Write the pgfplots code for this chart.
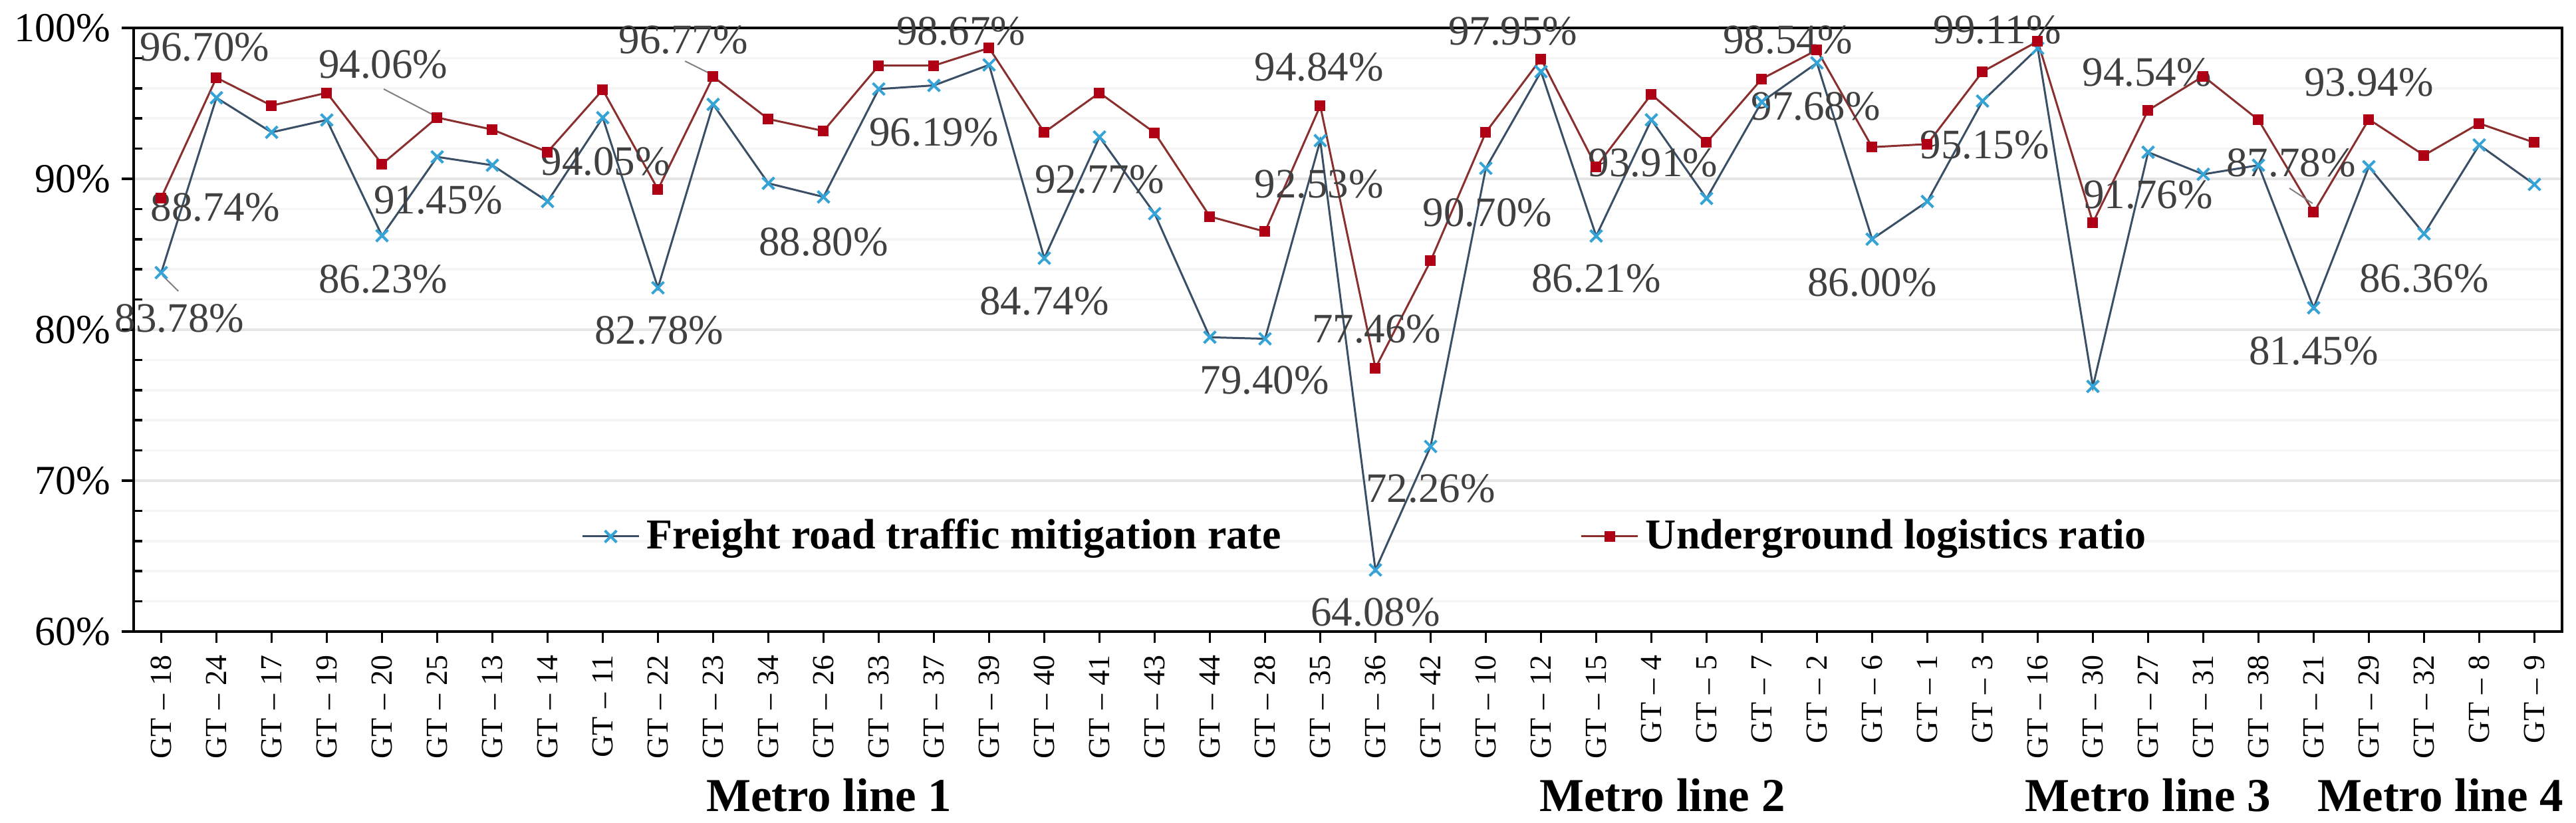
\documentclass[border=0pt]{standalone}
\usepackage{fontspec}
\setmainfont{Liberation Serif}
\usepackage{pgfplots}
\usepackage{pgfplotstable}
\pgfplotsset{compat=1.18}
\definecolor{bline}{HTML}{3A4F66}
\definecolor{bmark}{HTML}{35A3D6}
\definecolor{rline}{HTML}{8A2E2E}
\definecolor{rmark}{HTML}{B00015}
\definecolor{lbl}{HTML}{404040}
\newcommand{\gt}[1]{GT\hspace{0.28em}--\hspace{0.28em}#1}

\pgfplotstableread{
idx blue red
0 83.78 88.74
1 95.37 96.70
2 93.08 94.85
3 93.90 95.70
4 86.23 90.97
5 91.45 94.06
6 90.90 93.26
7 88.50 91.78
8 94.05 95.90
9 82.78 89.30
10 94.93 96.77
11 89.70 93.96
12 88.80 93.17
13 95.95 97.50
14 96.19 97.50
15 97.55 98.67
16 84.74 93.08
17 92.77 95.70
18 87.69 93.05
19 79.50 87.50
20 79.40 86.50
21 92.53 94.84
22 64.08 77.46
23 72.26 84.56
24 90.70 93.08
25 97.10 97.95
26 86.21 90.80
27 93.91 95.60
28 88.70 92.40
29 95.10 96.62
30 97.68 98.54
31 86.00 92.10
32 88.50 92.30
33 95.15 97.10
34 98.65 99.11
35 76.24 87.10
36 91.76 94.54
37 90.30 96.80
38 90.90 93.90
39 81.45 87.78
40 90.80 93.94
41 86.36 91.56
42 92.24 93.67
43 89.63 92.40
}\datatable

\begin{document}
\begin{tikzpicture}[
  lab/.style={font=\fontsize{12.6}{13}\selectfont, text=lbl, inner sep=0pt, anchor=center},
  metro/.style={font=\fontsize{14.2}{16}\selectfont\bfseries, anchor=base},
]
\useasboundingbox (0,0) rectangle (774.8pt,247.6pt);
\begin{axis}[
  at={(40.2pt,57.6pt)}, anchor=south west,
  width=730.4pt, height=181.6pt, scale only axis,
  xmin=-0.5, xmax=43.5, ymin=60, ymax=100,
  clip=false,
  xtick={0,...,43},
  xticklabels={\gt{18},\gt{24},\gt{17},\gt{19},\gt{20},\gt{25},\gt{13},\gt{14},\gt{11},\gt{22},\gt{23},\gt{34},\gt{26},\gt{33},\gt{37},\gt{39},\gt{40},\gt{41},\gt{43},\gt{44},\gt{28},\gt{35},\gt{36},\gt{42},\gt{10},\gt{12},\gt{15},\gt{4},\gt{5},\gt{7},\gt{2},\gt{6},\gt{1},\gt{3},\gt{16},\gt{30},\gt{27},\gt{31},\gt{38},\gt{21},\gt{29},\gt{32},\gt{8},\gt{9}},
  xticklabel style={font=\fontsize{9.2}{10}\selectfont, rotate=90, anchor=east},
  ytick={60,70,80,90,100},
  minor ytick={62,64,66,68,72,74,76,78,82,84,86,88,92,94,96,98},
  yticklabel={\pgfmathprintnumber{\tick}\%},
  /pgf/number format/assume math mode=true,
  yticklabel style={font=\fontsize{12.4}{13}\selectfont},
  xtick pos=bottom, ytick pos=left,
  tick align=outside,
  major tick length=3.5pt,
  minor tick length=2.6pt,
  minor y tick style={xshift=2.6pt},
  tick style={black, line width=0.7pt},
  ymajorgrids, yminorgrids,
  major grid style={draw=gray!20, line width=0.9pt},
  minor grid style={draw=gray!8, line width=0.7pt},
  axis line style={black, line width=0.8pt},
  legend columns=2,
  legend cell align=left,
  legend style={at={(0.18,0.1575)}, anchor=west, draw=none, fill=none,
    font=\fontsize{12.8}{14}\selectfont\bfseries,
    /tikz/every even column/.append style={column sep=88pt}},
]
\addplot[bline, line width=0.6pt, mark=x, mark size=2.5pt, mark options={bmark, line width=0.8pt}] table[x=idx, y=blue] {\datatable};
\addlegendentry{Freight road traffic mitigation rate}
\addplot[rline, line width=0.6pt, mark=square*, mark size=1.3pt, mark options={rmark, fill=rmark}] table[x=idx, y=red] {\datatable};
\addlegendentry{Underground logistics ratio}

% leader lines
\draw[gray, line width=0.4pt] (axis cs:0.02,83.6) -- (axis cs:0.31,82.56);
\draw[gray, line width=0.4pt] (axis cs:4.03,95.95) -- (axis cs:4.91,94.27);
\draw[gray, line width=0.4pt] (axis cs:9.49,97.8) -- (axis cs:9.95,96.96);
\draw[gray, line width=0.4pt] (axis cs:38.56,89.38) -- (axis cs:38.98,88.37);

% data labels
\node[lab] at (axis cs:0.79,98.72) {96.70\%};
\node[lab] at (axis cs:4.02,97.58) {94.06\%};
\node[lab] at (axis cs:0.98,88.1) {88.74\%};
\node[lab] at (axis cs:0.33,80.74) {83.78\%};
\node[lab] at (axis cs:4.02,83.35) {86.23\%};
\node[lab] at (axis cs:5.02,88.6) {91.45\%};
\node[lab] at (axis cs:8.05,91.15) {94.05\%};
\node[lab] at (axis cs:9.02,79.95) {82.78\%};
\node[lab] at (axis cs:9.46,99.2) {96.77\%};
\node[lab] at (axis cs:14.49,99.8) {98.67\%};
\node[lab] at (axis cs:14.0,93.1) {96.19\%};
\node[lab] at (axis cs:12.0,85.8) {88.80\%};
\node[lab] at (axis cs:17.0,89.96) {92.77\%};
\node[lab] at (axis cs:16.0,81.9) {84.74\%};
\node[lab] at (axis cs:19.99,76.65) {79.40\%};
\node[lab] at (axis cs:20.98,97.4) {94.84\%};
\node[lab] at (axis cs:20.98,89.65) {92.53\%};
\node[lab] at (axis cs:22.02,80.05) {77.46\%};
\node[lab] at (axis cs:23.0,69.47) {72.26\%};
\node[lab] at (axis cs:22.0,61.28) {64.08\%};
\node[lab] at (axis cs:24.03,87.75) {90.70\%};
\node[lab] at (axis cs:24.49,99.8) {97.95\%};
\node[lab] at (axis cs:26.0,83.4) {86.21\%};
\node[lab] at (axis cs:27.03,91.06) {93.91\%};
\node[lab] at (axis cs:29.47,99.2) {98.54\%};
\node[lab] at (axis cs:29.98,94.8) {97.68\%};
\node[lab] at (axis cs:31.0,83.13) {86.00\%};
\node[lab] at (axis cs:33.04,92.25) {95.15\%};
\node[lab] at (axis cs:33.27,99.87) {99.11\%};
\node[lab] at (axis cs:35.98,97.05) {94.54\%};
\node[lab] at (axis cs:36.0,88.94) {91.76\%};
\node[lab] at (axis cs:38.59,91.06) {87.78\%};
\node[lab] at (axis cs:40.0,96.4) {93.94\%};
\node[lab] at (axis cs:39.0,78.6) {81.45\%};
\node[lab] at (axis cs:41.0,83.4) {86.36\%};

% group labels
\node[metro] at (axis cs:12.1,48.1) {Metro line 1};
\node[metro] at (axis cs:27.2,48.1) {Metro line 2};
\node[metro] at (axis cs:36.0,48.1) {Metro line 3};
\node[metro] at (axis cs:41.3,48.1) {Metro line 4};
\end{axis}
\end{tikzpicture}
\end{document}
